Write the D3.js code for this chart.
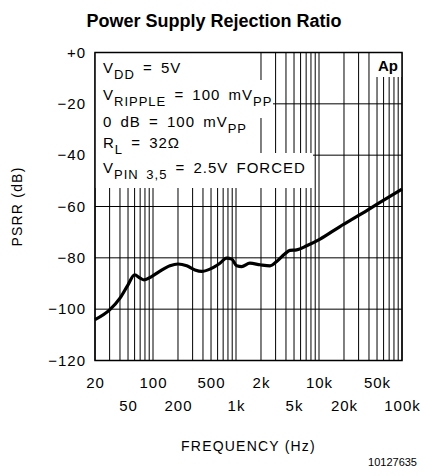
<!DOCTYPE html>
<html>
<head>
<meta charset="utf-8">
<script src="https://cdn.jsdelivr.net/npm/d3@7"></script>
<style>
  body { margin: 0; background: #fff; }
  svg text { fill: #000; }
</style>
</head>
<body>
<script>
'use strict'

// curve (Hz, dB)
let freq = [20, 30, 40, 50, 60, 70, 78, 96, 120, 160, 200, 255, 320, 385, 485, 640, 770, 890,
            1020, 1170, 1470, 1950, 2570, 3090, 3890, 4470, 5380, 7110, 10300, 17900, 31200, 54300, 100000]
let psrr = [-104.1, -100.3, -95.7, -90.5, -86.6, -87.9, -88.6, -87.3, -85.3, -83.1, -82.4, -83.1, -84.7, -85.3, -84.4, -82.1, -80.1, -80.5,
            -83.1, -83.4, -82.1, -82.7, -83.1, -81.4, -78.4, -77.1, -76.9, -75.3, -72.7, -67.8, -63.2, -58.4, -53.2]

let yTicks = [0, -20, -40, -60, -80, -100, -120]
let yTickLabels = ["+0", "\u221220", "\u221240", "\u221260", "\u221280", "\u2212100", "\u2212120"]
let xTopRow = [20, 100, 500, 2000, 10000, 50000]
let xTopLabels = ["20", "100", "500", "2k", "10k", "50k"]
let xBottomRow = [50, 200, 1000, 5000, 20000, 100000]
let xBottomLabels = ["50", "200", "1k", "5k", "20k", "100k"]

let width = 423, height = 476
let margin = { top: 52.5, right: 21, bottom: 115.5, left: 95 }
let plotW = width - margin.left - margin.right
let plotH = height - margin.top - margin.bottom
let sans = "'Liberation Sans', Arial, sans-serif"

let svg = d3.select("body").append("svg")
    .attr("width", width)
    .attr("height", height)

let x = d3.scaleLog().domain([20, 100000]).range([margin.left, margin.left + plotW])
let y = d3.scaleLinear().domain([-120, 0]).range([margin.top + plotH, margin.top])

// grid
let grid = svg.append("g").attr("stroke", "#000").attr("stroke-width", 1)
grid.selectAll("line.v")
    .data(x.ticks())
    .enter().append("line")
    .attr("x1", d => x(d)).attr("x2", d => x(d))
    .attr("y1", y(0)).attr("y2", y(-120))
grid.selectAll("line.h")
    .data(yTicks)
    .enter().append("line")
    .attr("x1", x(20)).attr("x2", x(100000))
    .attr("y1", d => y(d)).attr("y2", d => y(d))

// white patches behind the notes (grid is broken there)
let patches = [
  [95, 53, 160, 135],
  [95, 80, 178, 38],
  [95, 153, 218, 35],
  [372, 53, 30, 24]
]
svg.append("g").selectAll("rect")
    .data(patches)
    .enter().append("rect")
    .attr("x", d => d[0]).attr("y", d => d[1])
    .attr("width", d => d[2]).attr("height", d => d[3])
    .attr("fill", "#fff")

// frame
svg.append("rect")
    .attr("x", x(20)).attr("y", y(0))
    .attr("width", x(100000) - x(20)).attr("height", y(-120) - y(0))
    .attr("fill", "none").attr("stroke", "#000").attr("stroke-width", 1.5)

// curve
let line = d3.line()
    .x((d, i) => x(freq[i]))
    .y(d => y(d))
    .curve(d3.curveMonotoneX)
svg.append("path")
    .datum(psrr)
    .attr("d", line)
    .attr("fill", "none")
    .attr("stroke", "#000")
    .attr("stroke-width", 3.2)
    .attr("stroke-linejoin", "round")

// y tick labels
svg.append("g").selectAll("text")
    .data(yTicks)
    .enter().append("text")
    .attr("x", 86)
    .attr("y", d => y(d) + 5)
    .attr("text-anchor", "end")
    .style("font-family", sans).style("font-size", "15px").style("letter-spacing", "1px")
    .text((d, i) => yTickLabels[i])

// x tick labels, two staggered rows
svg.append("g").selectAll("text")
    .data(xTopRow)
    .enter().append("text")
    .attr("x", d => x(d) + 0.5)
    .attr("y", 388)
    .attr("text-anchor", "middle")
    .style("font-family", sans).style("font-size", "15px").style("letter-spacing", "1px")
    .text((d, i) => xTopLabels[i])
svg.append("g").selectAll("text")
    .data(xBottomRow)
    .enter().append("text")
    .attr("x", d => x(d) + 0.5)
    .attr("y", 411)
    .attr("text-anchor", "middle")
    .style("font-family", sans).style("font-size", "15px").style("letter-spacing", "1px")
    .text((d, i) => xBottomLabels[i])

// axis titles
svg.append("text")
    .attr("x", (x(20) + x(100000)) / 2)
    .attr("y", 451)
    .attr("text-anchor", "middle")
    .style("font-family", sans).style("font-size", "14px").style("letter-spacing", "1.2px")
    .text("FREQUENCY (Hz)")

svg.append("text")
    .attr("transform", "translate(22," + ((y(0) + y(-120)) / 2) + ")rotate(-90)")
    .attr("text-anchor", "middle")
    .style("font-family", sans).style("font-size", "14px").style("letter-spacing", "1.2px")
    .text("PSRR (dB)")

// title
svg.append("text")
    .attr("x", 214)
    .attr("y", 27)
    .attr("text-anchor", "middle")
    .style("font-family", sans)
    .style("font-size", "18px").style("font-weight", "bold")
    .text("Power Supply Rejection Ratio")

// notes: [main, subscript, rest, subscript]
let notes = [
  ["V", "DD", " = 5V", ""],
  ["V", "RIPPLE", " = 100 mV", "PP"],
  ["0 dB = 100 mV", "PP", "", ""],
  ["R", "L", " = 32\u03a9", ""],
  ["V", "PIN 3,5", " = 2.5V FORCED", ""]
]
let noteY = [73, 100, 127, 148, 173]
let nt = svg.append("g")
    .style("font-family", sans).style("font-size", "15px")
    .style("letter-spacing", "1px").style("word-spacing", "3px")
notes.forEach((n, i) => {
  let t = nt.append("text").attr("x", 103).attr("y", noteY[i])
  t.append("tspan").text(n[0])
  if (n[1]) t.append("tspan").attr("dy", 6).style("font-size", "13px").text(n[1])
  if (n[2]) t.append("tspan").attr("dy", n[1] ? -6 : 0).text(n[2])
  if (n[3]) t.append("tspan").attr("dy", 6).style("font-size", "13px").text(n[3])
})

svg.append("text")
    .attr("x", 398).attr("y", 71)
    .attr("text-anchor", "end")
    .style("font-family", sans)
    .style("font-size", "15px").style("font-weight", "bold")
    .text("Ap")

svg.append("text")
    .attr("x", 417).attr("y", 466)
    .attr("text-anchor", "end")
    .style("font-family", sans)
    .style("font-size", "11px")
    .text("10127635")
</script>
</body>
</html>
